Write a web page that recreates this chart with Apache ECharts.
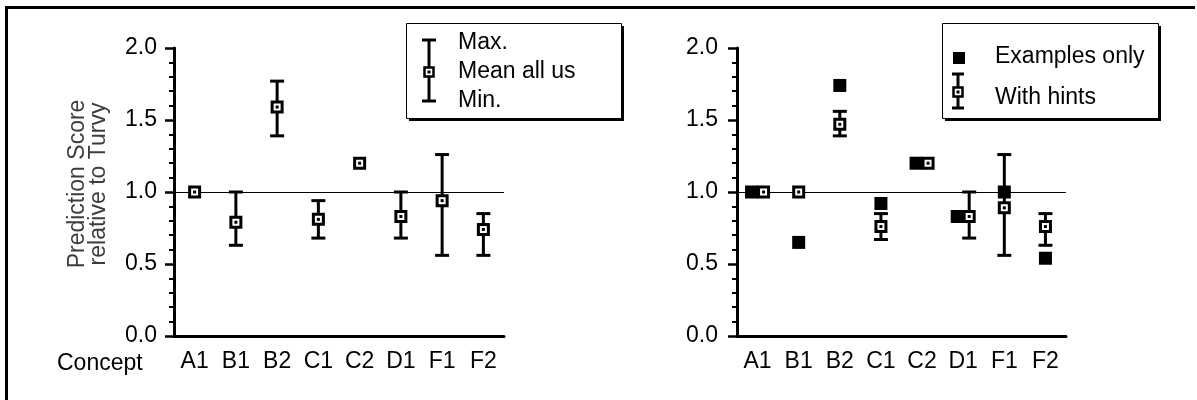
<!DOCTYPE html>
<html>
<head>
<meta charset="utf-8">
<script src="https://cdn.jsdelivr.net/npm/echarts@6/dist/echarts.min.js"></script>
<style>
  html, body { margin: 0; padding: 0; background: #fff; }
  #main { width: 1197px; height: 400px; }
</style>
</head>
<body>
<div id="main"></div>
<script>
// concepts on the x axis
var categories = ['A1', 'B1', 'B2', 'C1', 'C2', 'D1', 'F1', 'F2'];
// left panel: all users
var allMean = [1.00, 0.79, 1.59, 0.81, 1.20, 0.83, 0.94, 0.74];
var allMax  = [1.00, 1.00, 1.77, 0.94, 1.20, 1.00, 1.26, 0.85];
var allMin  = [1.00, 0.63, 1.39, 0.68, 1.20, 0.68, 0.56, 0.56];
// right panel
var examplesOnly = [1.00, 0.65, 1.74, 0.92, 1.20, 0.83, 1.00, 0.54];
var hintsMean = [1.00, 1.00, 1.47, 0.76, 1.20, 0.83, 0.89, 0.76];
var hintsMax  = [1.00, 1.00, 1.56, 0.85, 1.20, 1.00, 1.26, 0.85];
var hintsMin  = [1.00, 1.00, 1.39, 0.67, 1.20, 0.68, 0.56, 0.63];
// y axis
var yMin = 0, yMax = 2, yStep = 0.5;
var refValue = 1.0;

var FONT = '"Liberation Sans", Arial, Helvetica, sans-serif';
var chart = echarts.init(document.getElementById('main'));

// markers that would sit on top of each other get pushed apart
function overlaps(i) {
  return Math.abs(examplesOnly[i] - hintsMean[i]) < 0.05;
}

function errorRender(shift) {
  return function (params, api) {
    var i = api.value(0);
    var c = api.coord([i, api.value(1)]);
    var x = c[0] + (shift ? shift(i) : 0);
    var y = c[1];
    var top = api.coord([i, api.value(2)])[1];
    var bot = api.coord([i, api.value(3)])[1];
    var ls = { stroke: '#000', lineWidth: 3 };
    var kids = [];
    if (top < y - 1) {
      kids.push({ type: 'line', shape: { x1: x, y1: top, x2: x, y2: y }, style: ls });
      kids.push({ type: 'line', shape: { x1: x - 7, y1: top, x2: x + 7, y2: top }, style: ls });
    }
    if (bot > y + 1) {
      kids.push({ type: 'line', shape: { x1: x, y1: y, x2: x, y2: bot }, style: ls });
      kids.push({ type: 'line', shape: { x1: x - 7, y1: bot, x2: x + 7, y2: bot }, style: ls });
    }
    kids.push({ type: 'rect', shape: { x: x - 5, y: y - 5, width: 10, height: 10 },
      style: { fill: '#fff', stroke: '#000', lineWidth: 3 } });
    kids.push({ type: 'rect', shape: { x: x - 1.5, y: y - 1.5, width: 3, height: 3 },
      style: { fill: '#000' } });
    return { type: 'group', children: kids };
  };
}

function rows(mean, max, min) {
  return categories.map(function (c, i) { return [i, mean[i], max[i], min[i]]; });
}

function yAxisCfg(idx, margin) {
  return {
    type: 'value', gridIndex: idx, min: yMin, max: yMax, interval: yStep,
    axisLine: { show: true, lineStyle: { color: '#000', width: 3 } },
    axisTick: { show: true, length: 9, lineStyle: { color: '#000', width: 2.5 } },
    minorTick: { show: true, splitNumber: 5, length: 5, lineStyle: { color: '#000', width: 2 } },
    splitLine: { show: false },
    axisLabel: { formatter: function (v) { return v.toFixed(1); }, fontSize: 23,
      fontFamily: FONT, color: '#000', margin: margin }
  };
}

function xAxisCfg(idx) {
  return {
    type: 'category', gridIndex: idx, data: categories,
    axisLine: { lineStyle: { color: '#000', width: 3 } },
    axisTick: { length: 6, lineStyle: { color: '#000', width: 2.5 },
      interval: function (n) { return n > 0; } },
    axisLabel: { fontSize: 23, fontFamily: FONT, color: '#000', margin: 14 }
  };
}

var refLine = {
  silent: true, symbol: 'none', label: { show: false },
  lineStyle: { color: '#000', width: 1, type: 'solid', opacity: 1 },
  data: [{ yAxis: refValue }]
};

function legendBox(x, y, w, h) {
  return [
    { type: 'rect', shape: { x: x + 3, y: y + 3, width: w, height: h }, style: { fill: '#000' }, z: 100 },
    { type: 'rect', shape: { x: x + 0.5, y: y + 0.5, width: w, height: h },
      style: { fill: '#fff', stroke: '#000', lineWidth: 1 }, z: 101 }
  ];
}

function legendErr(cx, top, mid, bot, half) {
  var ls = { stroke: '#000', lineWidth: 3 };
  return [
    { type: 'line', shape: { x1: cx, y1: top, x2: cx, y2: bot }, style: ls, z: 102 },
    { type: 'line', shape: { x1: cx - half, y1: top, x2: cx + half, y2: top }, style: ls, z: 102 },
    { type: 'line', shape: { x1: cx - half, y1: bot, x2: cx + half, y2: bot }, style: ls, z: 102 },
    { type: 'rect', shape: { x: cx - 4.5, y: mid - 4.5, width: 9, height: 9 },
      style: { fill: '#fff', stroke: '#000', lineWidth: 2.5 }, z: 103 },
    { type: 'rect', shape: { x: cx - 1.5, y: mid - 1.5, width: 3, height: 3 }, style: { fill: '#000' }, z: 104 }
  ];
}

function legendText(x, y, txt, extra) {
  var st = { text: txt, fontSize: 23, fontFamily: FONT, fill: '#000', verticalAlign: 'middle' };
  if (extra) { for (var k in extra) st[k] = extra[k]; }
  return { type: 'text', x: x, y: y, style: st, z: 105 };
}

var graphics = [
  // outer frame
  { type: 'rect', shape: { x: 5, y: 6, width: 1190, height: 3 }, style: { fill: '#000' } },
  { type: 'rect', shape: { x: 5, y: 6, width: 3, height: 394 }, style: { fill: '#000' } },
  { type: 'text', x: 57, y: 364, style: { text: 'Concept', fontSize: 23, fontFamily: FONT,
    fill: '#000', verticalAlign: 'middle' } },
  // y axis title
  { type: 'text', x: 88, y: 184, rotation: Math.PI / 2,
    style: { text: 'Prediction Score\nrelative to Turvy', fontSize: 23, lineHeight: 21,
      fontFamily: FONT, fill: '#3c3c3c', align: 'center', verticalAlign: 'middle' } }
]
  .concat(legendBox(406, 23, 215, 95))
  .concat(legendErr(429, 40, 72, 101, 7))
  .concat([
    legendText(458, 43, 'Max.'),
    legendText(458, 72, 'Mean all users', { width: 125, overflow: 'truncate', ellipsis: '' }),
    legendText(458, 101, 'Min.')
  ])
  .concat(legendBox(942, 23, 216, 95))
  .concat([
    { type: 'rect', shape: { x: 953, y: 52, width: 12, height: 12 }, style: { fill: '#000' }, z: 102 }
  ])
  .concat(legendErr(958, 74, 92, 108, 6))
  .concat([
    legendText(995, 57, 'Examples only'),
    legendText(995, 98, 'With hints')
  ]);

var option = {
  animation: false,
  backgroundColor: '#fff',
  grid: [
    { left: 174, top: 48, width: 330, height: 288 },
    { left: 737, top: 48, width: 329, height: 288 }
  ],
  xAxis: [xAxisCfg(0), xAxisCfg(1)],
  yAxis: [yAxisCfg(0, 17), yAxisCfg(1, 19)],
  series: [
    {
      name: 'Mean all users', type: 'custom', xAxisIndex: 0, yAxisIndex: 0,
      data: rows(allMean, allMax, allMin), encode: { x: 0, y: 1 },
      renderItem: errorRender(null), z: 5,
      markLine: refLine
    },
    {
      name: 'Examples only', type: 'scatter', xAxisIndex: 1, yAxisIndex: 1,
      symbol: 'rect', symbolSize: 13, itemStyle: { color: '#000', opacity: 1 }, z: 4,
      data: examplesOnly.map(function (v, i) {
        return { value: [i, v], symbolOffset: [overlaps(i) ? -6 : 0, 0] };
      }),
      markLine: refLine
    },
    {
      name: 'With hints', type: 'custom', xAxisIndex: 1, yAxisIndex: 1,
      data: rows(hintsMean, hintsMax, hintsMin), encode: { x: 0, y: 1 },
      renderItem: errorRender(function (i) { return overlaps(i) ? 6 : 0; }), z: 6
    }
  ],
  graphic: graphics
};
chart.setOption(option);
</script>
</body>
</html>
